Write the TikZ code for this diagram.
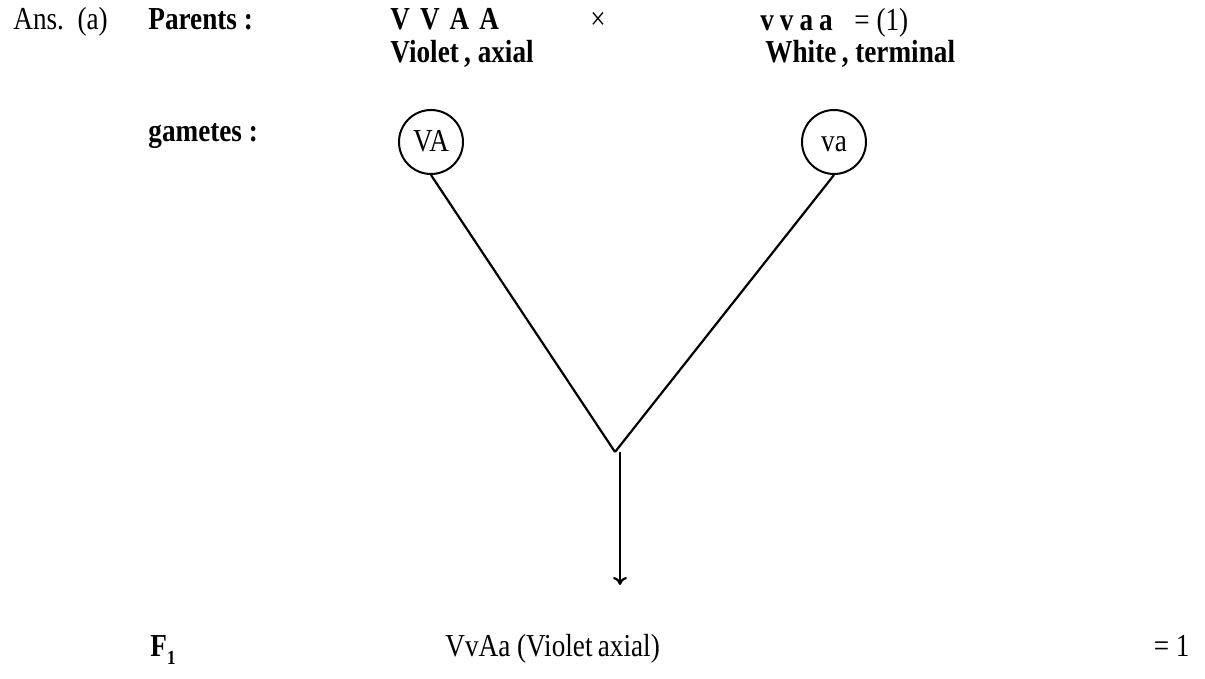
\documentclass[tikz,border=0pt]{standalone}
\usepackage{fontspec}
\setmainfont{Liberation Serif}[FakeStretch=0.85]
\usetikzlibrary{arrows.meta}

\begin{document}
\begin{tikzpicture}[x=0.5pt,y=-0.5pt,
   txt/.style={font=\fontsize{16}{18}\selectfont,inner sep=0pt,anchor=base west},
   bld/.style={txt,font=\fontsize{16}{18}\selectfont\bfseries},
   gam/.style={circle,draw,line width=1pt,minimum size=32pt,inner sep=0pt,
      text height=10pt,text depth=0pt,font=\fontsize{16}{18}\selectfont},
   lnk/.style={line width=1.1pt}]
\useasboundingbox (0,0) rectangle (1205,679);
% parents
\node[txt] (ans) at (13,30) {Ans.\ \ (a)};
\node[bld] (par) at (148,30) {Parents :};
\node[bld] (p1) at (390,30) {V\hspace{5pt}V\hspace{5pt}A\hspace{5pt}A};
\node[txt,anchor=base] (cross) at (598,30) {×};
\node[bld] (p2) at (760,31) {v\hspace{3pt}v\hspace{3pt}a\hspace{3pt}a};
\node[txt] (eq1) at (854,31) {= (1)};
\node[bld] (ph1) at (390,63) {Violet\,, axial};
\node[bld] (ph2) at (765,63) {White\,, terminal};
% gametes
\node[bld] (gam) at (148,142) {gametes :};
\node[gam] (g1) at (431,142) {VA};
\node[gam] (g2) at (834,142) {va};
\coordinate (meet) at (615,452);
\draw[lnk] (g1.south) -- (meet);
\draw[lnk] (g2.south) -- (meet);
% offspring
\coordinate (down) at (620,452);
\coordinate (tip) at (620,585);
\draw[lnk,-{To[length=4pt,width=7pt]}] (down) -- (tip);
\node[txt] (f1) at (150,656) {\bfseries F\raisebox{-4pt}{\fontsize{10}{10}\selectfont 1}};
\node[txt] (off) at (445,656) {VvAa (Violet\,axial)};
\node[txt,anchor=base east] (eq2) at (1190,656) {= 1};
\end{tikzpicture}
\end{document}
